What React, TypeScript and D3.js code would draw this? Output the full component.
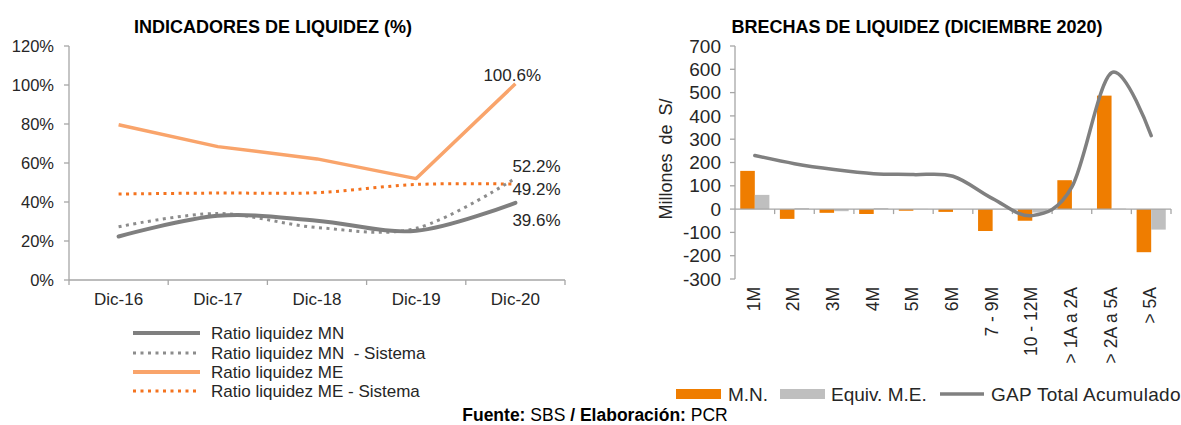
import React from 'react';
import * as d3 from 'd3';

// ---------- Left chart data ----------
const years = ['Dic-16', 'Dic-17', 'Dic-18', 'Dic-19', 'Dic-20'];
const ratioMN = [22.3, 32.9, 30.4, 25.2, 39.6];
const ratioMNSistema = [27.3, 34.1, 26.9, 26.5, 52.2];
const ratioME = [79.6, 68.4, 62.1, 52.0, 100.6];
const ratioMESistema = [44.1, 44.6, 44.8, 49.0, 49.2];
const leftTicks = [0, 20, 40, 60, 80, 100, 120];

// ---------- Right chart data ----------
const buckets = ['1M', '2M', '3M', '4M', '5M', '6M', '7 - 9M', '10 - 12M', '> 1A a 2A', '> 2A a 5A', '> 5A'];
const mnValues = [164, -42, -16, -21, -7, -12, -94, -50, 124, 487, -185];
const meValues = [61, 4, -9, 4, 1, 0, 1, -15, 0, 2, -88];
const gapTotal = [230, 195, 170, 152, 148, 141, 45, -28, 95, 585, 315];
const rightTicks = [-300, -200, -100, 0, 100, 200, 300, 400, 500, 600, 700];

const FONT = 'Liberation Sans, Arial, Helvetica, sans-serif';
const TXT = '#262626';
const AXIS = '#a6a6a6';

const C_MN = '#7f7f7f';
const C_MN_S = '#8c8c8c';
const C_ME = '#f9a46b';
const C_ME_S = '#f4731f';
const C_BAR_MN = '#ef7d00';
const C_BAR_ME = '#bfbfbf';
const C_GAP = '#808080';

function LeftChart() {
  const x = d3.scaleBand<string>().domain(years).range([69, 565]);
  const y = d3.scaleLinear().domain([0, 120]).range([280, 46]);
  const cx = (d: string) => (x(d) as number) + x.bandwidth() / 2;

  const smooth = d3
    .line<number>()
    .x((_, i) => cx(years[i]))
    .y((v) => y(v))
    .curve(d3.curveCatmullRom.alpha(0));
  const straight = d3
    .line<number>()
    .x((_, i) => cx(years[i]))
    .y((v) => y(v));

  const last = years[years.length - 1];
  const legend = [
    { label: 'Ratio liquidez MN', color: C_MN, dash: undefined, w: 4 },
    { label: 'Ratio liquidez MN  - Sistema', color: C_MN_S, dash: '3 4.5', w: 3 },
    { label: 'Ratio liquidez ME', color: C_ME, dash: undefined, w: 4 },
    { label: 'Ratio liquidez ME - Sistema', color: C_ME_S, dash: '3 4.5', w: 3 },
  ];
  const legendY = [333, 353, 372, 391];

  return (
    <g>
      <text x={273} y={33} textAnchor="middle" fontWeight="bold" fontSize={18} fill="#000">
        INDICADORES DE LIQUIDEZ (%)
      </text>
      {/* y axis */}
      <line x1={69} x2={69} y1={46} y2={280} stroke={AXIS} strokeWidth={1.3} />
      {leftTicks.map((t) => (
        <g key={t}>
          <line x1={64} x2={69} y1={y(t)} y2={y(t)} stroke={AXIS} strokeWidth={1.3} />
          <text x={54} y={y(t)} dy="0.35em" textAnchor="end" fontSize={16.5} fill={TXT}>
            {t}%
          </text>
        </g>
      ))}
      {/* x axis */}
      <line x1={69} x2={565} y1={280} y2={280} stroke={AXIS} strokeWidth={1.3} />
      {years.map((d, i) => (
        <g key={d}>
          <line
            x1={(x(d) as number) + x.bandwidth()}
            x2={(x(d) as number) + x.bandwidth()}
            y1={280}
            y2={285}
            stroke={AXIS}
            strokeWidth={1.3}
          />
          {i === 0 && <line x1={69} x2={69} y1={280} y2={285} stroke={AXIS} strokeWidth={1.3} />}
          <text x={cx(d)} y={305} textAnchor="middle" fontSize={17} fill={TXT}>
            {d}
          </text>
        </g>
      ))}
      {/* series */}
      <path d={smooth(ratioMESistema) || ''} fill="none" stroke={C_ME_S} strokeWidth={3} strokeDasharray="3 4.5" />
      <path d={straight(ratioME) || ''} fill="none" stroke={C_ME} strokeWidth={3.5} strokeLinejoin="round" />
      <path d={smooth(ratioMNSistema) || ''} fill="none" stroke={C_MN_S} strokeWidth={3} strokeDasharray="3 4.5" />
      <path d={smooth(ratioMN) || ''} fill="none" stroke={C_MN} strokeWidth={4} strokeLinecap="round" />
      {/* data labels */}
      <text x={cx(last) - 32} y={y(ratioME[4]) - 9} dy="0.35em" fontSize={17} fill={TXT}>
        {ratioME[4].toFixed(1)}%
      </text>
      <text x={cx(last) - 3} y={y(ratioMNSistema[4]) - 12} dy="0.35em" fontSize={17} fill={TXT}>
        {ratioMNSistema[4].toFixed(1)}%
      </text>
      <text x={cx(last) - 3} y={y(ratioMESistema[4]) + 5} dy="0.35em" fontSize={17} fill={TXT}>
        {ratioMESistema[4].toFixed(1)}%
      </text>
      <text x={cx(last) - 3} y={y(ratioMN[4]) + 17} dy="0.35em" fontSize={17} fill={TXT}>
        {ratioMN[4].toFixed(1)}%
      </text>
      {/* legend */}
      {legend.map((l, i) => (
        <g key={l.label}>
          <line x1={133} x2={200} y1={legendY[i]} y2={legendY[i]} stroke={l.color} strokeWidth={l.w} strokeDasharray={l.dash} />
          <text x={211} y={legendY[i]} dy="0.35em" fontSize={17} fill={TXT} style={{ whiteSpace: 'pre' }}>
            {l.label}
          </text>
        </g>
      ))}
    </g>
  );
}

function RightChart() {
  const x = d3.scaleBand<string>().domain(buckets).range([735, 1171]);
  const sub = d3.scaleBand<string>().domain(['mn', 'me']).range([0, x.bandwidth()]).paddingOuter(0.36);
  const y = d3.scaleLinear().domain([-300, 700]).range([279, 46]);
  const cx = (d: string) => (x(d) as number) + x.bandwidth() / 2;
  const y0 = y(0);

  const gapLine = d3
    .line<number>()
    .x((_, i) => cx(buckets[i]))
    .y((v) => y(v))
    .curve(d3.curveCatmullRom.alpha(0));

  const bar = (v: number) => ({ y: Math.min(y(v), y0), h: Math.abs(y(v) - y0) });

  return (
    <g>
      <text x={917} y={33} textAnchor="middle" fontWeight="bold" fontSize={18} fill="#000">
        BRECHAS DE LIQUIDEZ (DICIEMBRE 2020)
      </text>
      <text
        transform={`translate(672,159) rotate(-90)`}
        textAnchor="middle"
        fontSize={18}
        fill={TXT}
        style={{ wordSpacing: '4px' }}
      >
        Millones de S/
      </text>
      {/* y axis */}
      <line x1={735} x2={735} y1={46} y2={279} stroke={AXIS} strokeWidth={1.3} />
      {rightTicks.map((t) => (
        <g key={t}>
          <line x1={730} x2={735} y1={y(t)} y2={y(t)} stroke={AXIS} strokeWidth={1.3} />
          <text x={721} y={y(t)} dy="0.35em" textAnchor="end" fontSize={19} fill={TXT}>
            {t}
          </text>
        </g>
      ))}
      {/* bars */}
      {buckets.map((b, i) => {
        const a = bar(mnValues[i]);
        const m = bar(meValues[i]);
        const bx = x(b) as number;
        return (
          <g key={b}>
            <rect x={bx + (sub('mn') as number)} y={a.y} width={sub.bandwidth()} height={a.h} fill={C_BAR_MN} />
            <rect x={bx + (sub('me') as number)} y={m.y} width={sub.bandwidth()} height={m.h} fill={C_BAR_ME} />
          </g>
        );
      })}
      {/* x axis at zero */}
      <line x1={735} x2={1171} y1={y0} y2={y0} stroke={AXIS} strokeWidth={1.3} />
      {buckets.map((b) => (
        <line
          key={'t' + b}
          x1={(x(b) as number) + x.bandwidth()}
          x2={(x(b) as number) + x.bandwidth()}
          y1={y0}
          y2={y0 + 5}
          stroke={AXIS}
          strokeWidth={1.3}
        />
      ))}
      <path d={gapLine(gapTotal) || ''} fill="none" stroke={C_GAP} strokeWidth={3.5} strokeLinecap="round" />
      {/* x labels */}
      {buckets.map((b) => (
        <text
          key={'l' + b}
          transform={`translate(${cx(b) + 5},287) rotate(-90)`}
          textAnchor="end"
          fontSize={17.5}
          fill={TXT}
          style={{ whiteSpace: 'pre' }}
        >
          {b}
        </text>
      ))}
      {/* legend */}
      <rect x={676} y={389} width={45} height={10} fill={C_BAR_MN} />
      <text x={728} y={394} dy="0.35em" fontSize={19} fill={TXT}>M.N.</text>
      <rect x={780} y={389} width={45} height={10} fill={C_BAR_ME} />
      <text x={831} y={394} dy="0.35em" fontSize={19} fill={TXT}>Equiv. M.E.</text>
      <line x1={940} x2={984} y1={394} y2={394} stroke={C_GAP} strokeWidth={3.5} />
      <text x={991} y={394} dy="0.35em" fontSize={19} fill={TXT} style={{ letterSpacing: '0.3px' }}>GAP Total Acumulado</text>
    </g>
  );
}

export default function App() {
  return (
    <svg
      width={1181}
      height={425}
      viewBox="0 0 1181 425"
      style={{ position: 'absolute', left: 0, top: 0, background: '#fff', fontFamily: FONT }}
    >
      <rect width={1181} height={425} fill="#fff" />
      <LeftChart />
      <RightChart />
      <text x={595} y={421} textAnchor="middle" fontSize={17.5} fill="#000">
        <tspan fontWeight="bold">Fuente: </tspan>
        <tspan>SBS </tspan>
        <tspan fontWeight="bold">/ Elaboración: </tspan>
        <tspan>PCR</tspan>
      </text>
    </svg>
  );
}
